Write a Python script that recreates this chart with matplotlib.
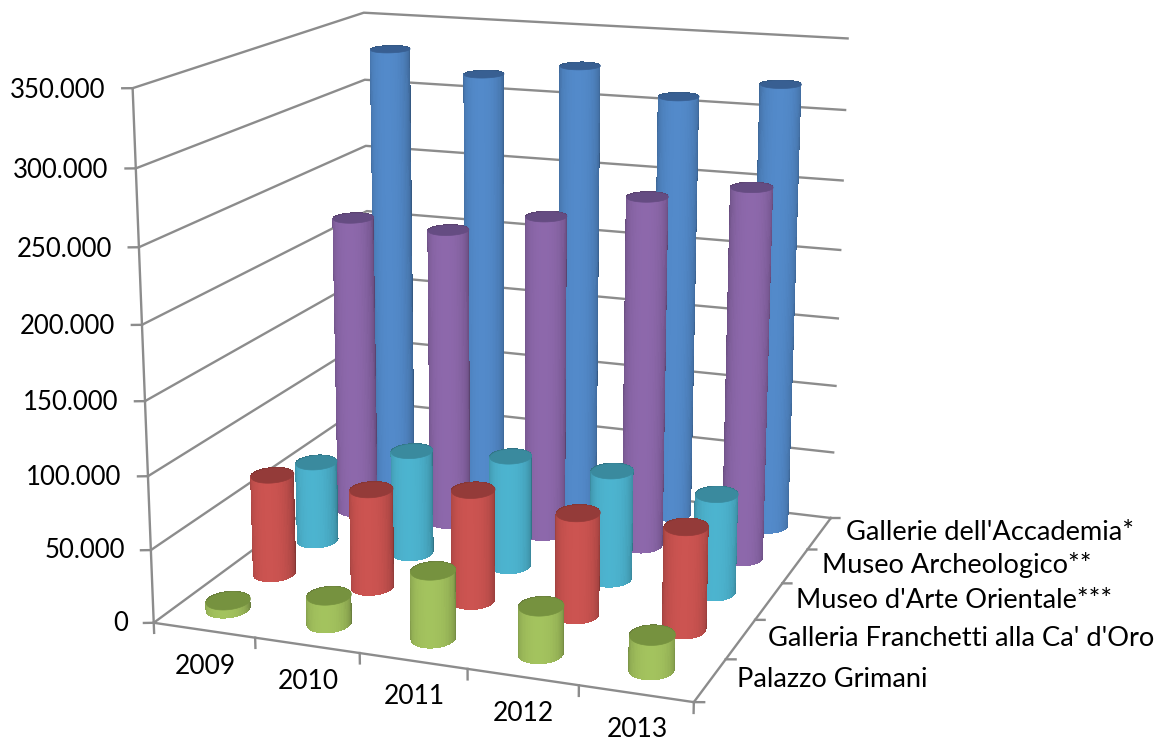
import numpy as np
import matplotlib
matplotlib.use("Agg")
import matplotlib.pyplot as plt
from matplotlib.colors import to_rgb
from mpl_toolkits.mplot3d import proj3d
from mpl_toolkits.mplot3d.art3d import Poly3DCollection

years = ["2009", "2010", "2011", "2012", "2013"]
museums = ["Palazzo Grimani", "Galleria Franchetti alla Ca' d'Oro",
           "Museo d'Arte Orientale***", "Museo Archeologico**",
           "Gallerie dell'Accademia*"]

grimani = [6000, 19300, 46000, 32000, 23000]
franchetti = [70600, 69000, 77300, 70300, 70000]
orientale = [58000, 74600, 79000, 77000, 69200]
archeologico = [219000, 216000, 231400, 250700, 262700]
accademia = [329500, 315500, 325500, 308000, 321000]
series = [grimani, franchetti, orientale, archeologico, accademia]

colors = ["#A0BF5C", "#C8524F", "#4BB0CB", "#8A66A8", "#5187C6"]
cap_colors = ["#76923F", "#943B39", "#3A8A9E", "#654C82", "#385F92"]

z_ticks = np.arange(0, 350001, 50000)
z_labels = ["0", "50.000", "100.000", "150.000", "200.000", "250.000", "300.000", "350.000"]
grid = "#8C8C8C"

plt.rcParams['font.family'] = ['Lato', 'DejaVu Sans']

fig = plt.figure(figsize=(11.56, 7.4), dpi=100)
ax = fig.add_axes([53 / 1156, -40 / 740, 893 / 1156, 893 / 740], projection='3d', computed_zorder=False)
ax.set_proj_type('persp', focal_length=0.52)
ax.view_init(elev=15, azim=-69.6)
ax.set_box_aspect((547, 529, 526))
ax.set_xlim(0, 5)
ax.set_ylim(0, 5)
ax.set_zlim(0, 350000)
ax.set_xticks([])
ax.set_yticks([])
ax.set_zticks([])
ax.set_axis_off()


def line(xs, ys, zs, z=0):
    ax.plot(xs, ys, zs, color=grid, lw=1.7, zorder=z)


def label(x, y, z, s, offset=(0, 0), **kw):
    # flat text at the projected point, moved by some pixels
    px, py, _ = proj3d.proj_transform(x, y, z, ax.get_proj())
    ax.annotate(s, (px, py), xytext=offset, textcoords='offset pixels',
                color='black', zorder=300, annotation_clip=False, **kw)


# walls and floor
for v in z_ticks:
    line([0, 0, 5], [0, 5, 5], [v, v, v])
    line([-0.08, 0], [-0.035, 0], [v, v])
line([0, 0], [0, 0], [0, 350000])
line([0, 5], [0, 0], [0, 0], z=200)
line([5, 5], [0, 5], [0, 0], z=200)
for i in range(6):
    line([i, i], [0, 0], [0, -7000], z=200)
    line([5, 5.08], [i, i + 0.03], [0, 0], z=200)

# cylinders, back row first
theta = np.linspace(0, 2 * np.pi, 73)
rx, ry = 0.19, 0.235
view = np.deg2rad(-69.6)
for j in range(4, -1, -1):
    base = np.array(to_rgb(colors[j]))
    for i in range(5):
        h = series[j][i]
        T, Z = np.meshgrid(theta, [0, h])
        X = i + 0.47 + rx * np.cos(T)
        Y = j + 0.55 + ry * np.sin(T)
        # dark at the silhouette, light in the middle
        light = np.cos(T - view + 0.1)
        shade = 0.66 + 0.36 * np.clip(light, 0, 1) ** 0.6
        fc = np.clip(base[None, None, :] * shade[..., None], 0, 1)
        order = (4 - j) * 10 + i
        ax.plot_surface(X, Y, Z, facecolors=fc, shade=False, rstride=1, cstride=1,
                        linewidth=0.4, edgecolor='none', antialiased=False, zorder=order)
        cap = list(zip(i + 0.47 + rx * np.cos(theta), j + 0.55 + ry * np.sin(theta), [h] * len(theta)))
        ax.add_collection3d(Poly3DCollection([cap], facecolor=cap_colors[j], edgecolor=cap_colors[j],
                                             linewidth=0.5, zorder=order + 0.5))

# labels
for v, lab in zip(z_ticks, z_labels):
    label(-0.27, 0, v, lab, offset=(1, -2), ha='right', va='center_baseline', fontsize=18.5)
for i, y in enumerate(years):
    label(i + 0.5, 0, 0, y, offset=(1, -36), ha='center', va='center', fontsize=19)
for j, m in enumerate(museums):
    label(5, j + 0.5, 0, m, offset=(27, 1), ha='left', va='center', fontsize=19.6)

fig.savefig("out.png", dpi=100)
